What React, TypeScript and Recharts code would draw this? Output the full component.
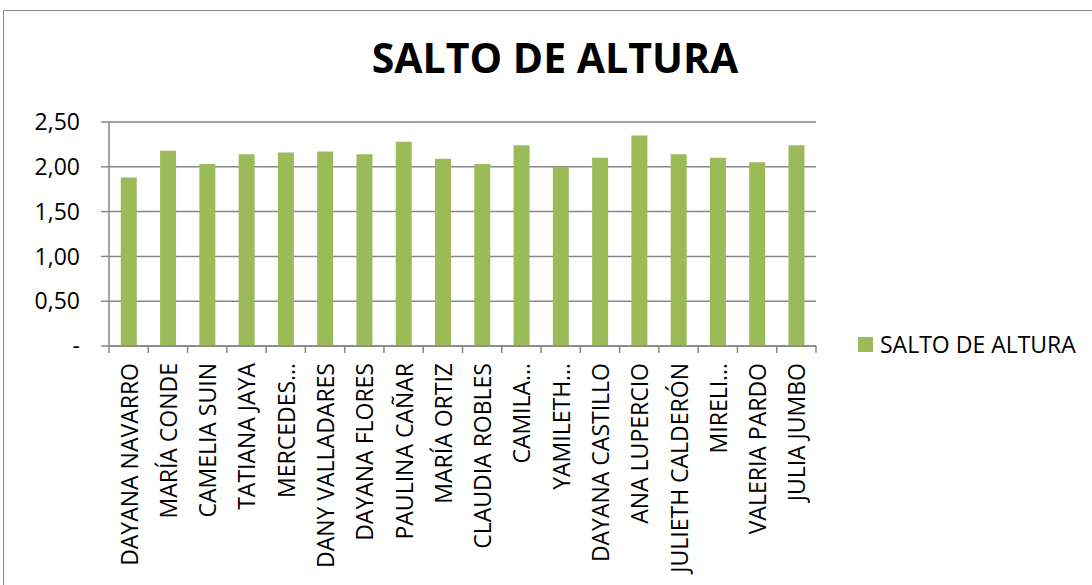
import { BarChart, Bar, XAxis, YAxis, CartesianGrid } from "recharts";

const athletes = [
  "DAYANA NAVARRO",
  "MARÍA CONDE",
  "CAMELIA SUIN",
  "TATIANA JAYA",
  "MERCEDES…",
  "DANY VALLADARES",
  "DAYANA FLORES",
  "PAULINA CAÑAR",
  "MARÍA ORTIZ",
  "CLAUDIA ROBLES",
  "CAMILA…",
  "YAMILETH…",
  "DAYANA CASTILLO",
  "ANA LUPERCIO",
  "JULIETH CALDERÓN",
  "MIRELI…",
  "VALERIA PARDO",
  "JULIA JUMBO",
];

const heights = [
  1.88, 2.18, 2.03, 2.14, 2.16, 2.17, 2.14, 2.28, 2.09, 2.03, 2.24, 2.0, 2.1,
  2.35, 2.14, 2.1, 2.05, 2.24,
];

const yTicks = [0, 0.5, 1, 1.5, 2, 2.5];

const data = athletes.map((name, i) => ({ name, salto: heights[i] }));

const FONT = "'Open Sans', sans-serif";
const GRID = "#878787";
const GREEN = "#9BBB59";

function NameTick(props: any) {
  const { x, y, payload, index } = props;
  const half = payload.offset ?? 0;
  const ty = y + 17;
  return (
    <g>
      <line x1={x - half} y1={y} x2={x - half} y2={y + 7} stroke={GRID} strokeWidth={1.5} />
      {index === athletes.length - 1 && (
        <line x1={x + half} y1={y} x2={x + half} y2={y + 7} stroke={GRID} strokeWidth={1.5} />
      )}
      <text
        x={x}
        y={ty}
        transform={`rotate(-90, ${x}, ${ty})`}
        textAnchor="end"
        dominantBaseline="central"
        fontFamily={FONT}
        fontSize={23}
        fill="#000"
      >
        {payload.value}
      </text>
    </g>
  );
}

export default function App() {
  return (
    <div
      style={{
        position: "absolute",
        left: 0,
        top: 0,
        width: 1092,
        height: 585,
        overflow: "hidden",
        background: "#fff",
      }}
    >
      <div
        style={{
          position: "absolute",
          left: 3,
          top: 10,
          width: 1200,
          height: 700,
          border: `1.5px solid ${GRID}`,
        }}
      />
      <div
        style={{
          position: "absolute",
          left: 0,
          width: 1110,
          top: 29,
          textAlign: "center",
          fontFamily: FONT,
          fontWeight: 700,
          fontSize: 41,
          color: "#000",
        }}
      >
        SALTO DE ALTURA
      </div>
      <div style={{ position: "absolute", left: 0, top: 0 }}>
        <BarChart
          width={1092}
          height={585}
          data={data}
          margin={{ top: 122, right: 276, left: 0, bottom: 9 }}
          barCategoryGap="30%"
        >
          <CartesianGrid vertical={false} stroke={GRID} strokeWidth={1.5} />
          <XAxis
            dataKey="name"
            interval={0}
            height={230}
            tickLine={false}
            tickSize={0}
            tickMargin={0}
            axisLine={{ stroke: GRID, strokeWidth: 1.5 }}
            tick={<NameTick />}
          />
          <YAxis
            domain={[0, 2.5]}
            ticks={yTicks}
            width={109}
            tickSize={8}
            tickMargin={21}
            tickLine={{ stroke: GRID, strokeWidth: 1.5 }}
            axisLine={{ stroke: GRID, strokeWidth: 1.5 }}
            tick={{ fontFamily: FONT, fontSize: 23, fill: "#000" }}
            tickFormatter={(v: number) => (v === 0 ? "-" : v.toFixed(2).replace(".", ","))}
          />
          <Bar dataKey="salto" name="SALTO DE ALTURA" fill={GREEN} isAnimationActive={false} />
        </BarChart>
      </div>
      <div
        style={{
          position: "absolute",
          left: 858,
          top: 328,
          display: "flex",
          alignItems: "center",
          fontFamily: FONT,
          fontSize: 23,
          color: "#000",
          whiteSpace: "nowrap",
        }}
      >
        <span
          style={{ width: 15, height: 15, background: GREEN, display: "inline-block", marginRight: 7 }}
        />
        SALTO DE ALTURA
      </div>
    </div>
  );
}
